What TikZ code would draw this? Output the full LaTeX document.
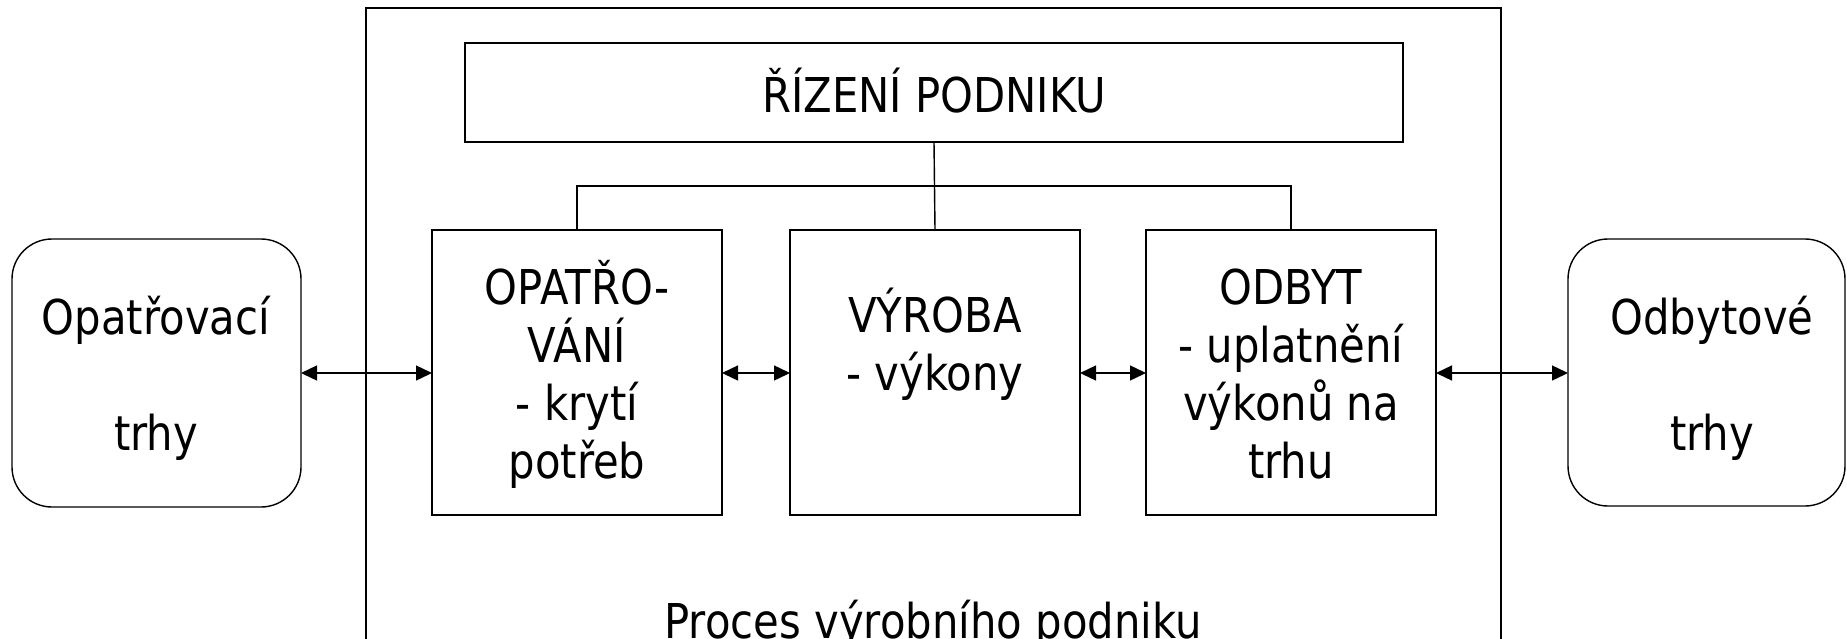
\documentclass[tikz,border=0pt]{standalone}
\usepackage{fontspec}
\setmainfont{DejaVu Sans}[FakeStretch=0.87]
\usetikzlibrary{arrows.meta}

\begin{document}
\begin{tikzpicture}[x=0.5pt, y=-0.5pt,
    box/.style={draw, line width=0.7pt, inner sep=0pt, outer sep=0pt, anchor=north west},
    market/.style={box, rounded corners=20pt},
    txt/.style={anchor=base, align=center, inner sep=0pt, font=\fontsize{24}{29}\selectfont},
    link/.style={line width=0.7pt, {Triangle[length=8pt,width=7.5pt]}-{Triangle[length=8pt,width=7.5pt]}},
    tree/.style={line width=0.7pt}]

    \useasboundingbox (0,0) rectangle (1847,638);
    \clip (0,0) rectangle (1847,638);

    % Enterprise frame
    \node[box, minimum width=567.5pt, minimum height=346pt] (podnik) at (366,8) {};
    \node[txt] (t-podnik) at (933,638) {Proces výrobního podniku};

    % Management
    \node[box, minimum width=469pt, minimum height=49.5pt] (rizeni) at (465,43) {};
    \node[txt] (t-rizeni) at (934,112) {ŘÍZENÍ PODNIKU};

    % Three functions (text placed by its last baseline)
    \node[box, minimum width=145pt, minimum height=142.5pt] (opatr) at (432,230) {};
    \node[box, minimum width=145pt, minimum height=142.5pt] (vyroba) at (790,230) {};
    \node[box, minimum width=145pt, minimum height=142.5pt] (odbyt) at (1146,230) {};
    \node[txt] (t-opatr) at (577,478) {OPATŘO-\\VÁNÍ\\- krytí\\potřeb};
    \node[txt] (t-vyroba) at (935,390) {VÝROBA\\- výkony};
    \node[txt] (t-odbyt) at (1291,478) {ODBYT\\- uplatnění\\výkonů na\\trhu};

    % Markets
    \node[market, minimum width=144.5pt, minimum height=134pt] (trhL) at (12,239) {};
    \node[market, minimum width=138.5pt, minimum height=133.5pt] (trhR) at (1568,239) {};
    \node[txt] (t-trhL) at (156,450) {Opatřovací\\[29pt]trhy};
    \node[txt] (t-trhR) at (1712,450) {Odbytové\\[29pt]trhy};

    % Tree from management
    \draw[tree] (rizeni.south) -- (vyroba.north);
    \draw[tree] (opatr.north) -- ++(0,-44) -| (odbyt.north);

    % Flows
    \draw[link] (trhL.east) -- (trhL.east -| opatr.west);
    \draw[link] (opatr.east |- trhL.east) -- (vyroba.west |- trhL.east);
    \draw[link] (vyroba.east |- trhL.east) -- (odbyt.west |- trhL.east);
    \draw[link] (odbyt.east |- trhL.east) -- (trhR.west |- trhL.east);

\end{tikzpicture}
\end{document}
